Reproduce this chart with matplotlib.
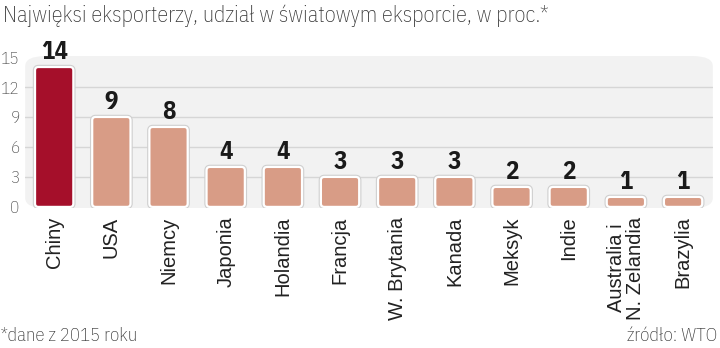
import matplotlib
matplotlib.use("Agg")
import matplotlib.pyplot as plt
from matplotlib.patches import FancyBboxPatch

# data
countries = ["Chiny", "USA", "Niemcy", "Japonia", "Holandia", "Francja",
             "W. Brytania", "Kanada", "Meksyk", "Indie",
             "Australia i\nN. Zelandia", "Brazylia"]
shares = [14, 9, 8, 4, 4, 3, 3, 3, 2, 2, 1, 1]
yticks = [0, 3, 6, 9, 12, 15]

HIGHLIGHT = "#a50f2a"
BAR = "#d89c86"
NARROW = ["IBM Plex Sans Condensed", "DejaVu Sans"]
ARIAL = ["Liberation Sans", "DejaVu Sans"]

fig = plt.figure(figsize=(7.2, 3.48), dpi=100)
ax = fig.add_axes([0.035, 0.402, 0.955, 0.437])
ax.set_xlim(-0.507, 11.52)
ax.set_ylim(-0.12, 15.1)

# rounded grey panel behind the bars
ax.set_facecolor("none")
panel = FancyBboxPatch((0, 0), 1, 1, boxstyle="round,pad=0,rounding_size=0.03",
                       mutation_aspect=2.2, transform=ax.transAxes,
                       facecolor="#f2f2f2", edgecolor="none", zorder=0)
ax.add_patch(panel)
for y in yticks[1:-1]:
    ax.axhline(y, color="#d6d6d6", lw=1, zorder=1)

x = list(range(len(countries)))
bars = ax.bar(x, shares, width=0.67, color="none", edgecolor="none")
for i, b in enumerate(bars):
    bx, by, bw, bh = b.get_x(), b.get_y(), b.get_width(), b.get_height()
    col = HIGHLIGHT if i == 0 else BAR
    outer = FancyBboxPatch((bx, by), bw, bh,
                           boxstyle="round,pad=0,rounding_size=0.06",
                           mutation_aspect=5.7, facecolor=col,
                           edgecolor="#cfcfcf", lw=3.2, zorder=2)
    inner = FancyBboxPatch((bx, by), bw, bh,
                           boxstyle="round,pad=0,rounding_size=0.06",
                           mutation_aspect=5.7, facecolor=col,
                           edgecolor="white", lw=1.6, zorder=3)
    ax.add_patch(outer)
    ax.add_patch(inner)
    ax.text(i, shares[i] + 0.3, str(shares[i]), ha="center", va="bottom",
            fontsize=18, fontweight="bold", color="#1a1a1a", family=NARROW)

for s in ax.spines.values():
    s.set_visible(False)
ax.set_yticks(yticks)
ax.set_yticklabels([str(v) for v in yticks], family=NARROW, fontsize=12.5,
                   fontweight="light", color="#444444")
ax.tick_params(axis="y", length=0, pad=4)
ax.set_xticks(x)
ax.set_xticklabels(countries, rotation=90, fontsize=14.5, color="#222222",
                   family=ARIAL, linespacing=0.95)
ax.tick_params(axis="x", length=0, pad=6)

fig.text(0.004, 0.988, "Najwięksi eksporterzy, udział w światowym eksporcie, w proc.*",
         ha="left", va="top", fontsize=16, fontweight="light",
         color="#333333", family=NARROW)
fig.text(0.001, 0.008, "*dane z 2015 roku", ha="left", va="bottom",
         fontsize=13.5, fontweight="light", color="#333333", family=NARROW)
fig.text(0.996, 0.008, "źródło: WTO", ha="right", va="bottom",
         fontsize=13.5, fontweight="light", color="#333333", family=NARROW)

fig.savefig("out.png", dpi=100)
